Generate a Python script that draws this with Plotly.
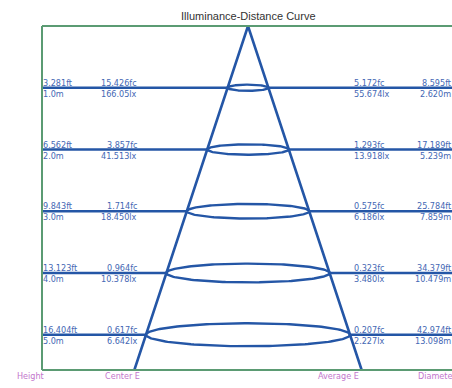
import numpy as np
import plotly.graph_objects as go

# ---- data ----
height_m = [1.0, 2.0, 3.0, 4.0, 5.0]
height_ft = ["3.281ft", "6.562ft", "9.843ft", "13.123ft", "16.404ft"]
center_fc = ["15.426fc", "3.857fc", "1.714fc", "0.964fc", "0.617fc"]
center_lx = ["166.05lx", "41.513lx", "18.450lx", "10.378lx", "6.642lx"]
avg_fc = ["5.172fc", "1.293fc", "0.575fc", "0.323fc", "0.207fc"]
avg_lx = ["55.674lx", "13.918lx", "6.186lx", "3.480lx", "2.227lx"]
diam_ft = ["8.595ft", "17.189ft", "25.784ft", "34.379ft", "42.974ft"]
diam_m = [2.620, 5.239, 7.859, 10.479, 13.098]
bottom_labels = ["Height", "Center E", "Average E", "Diameter"]
title = "Illuminance-Distance Curve"

# ---- layout geometry ----
W, H = 452, 388
ML, MR, MT, MB = 42, 0, 26, 18
PW, PH = W - ML - MR, H - MT - MB
row_px = 61.75                      # px per metre of height
ymax = PH / row_px
apex_px = 206                       # apex offset from plot left (px)
r_per_m = diam_m[-1] / 2 / height_m[-1]
sx = 20.4 / r_per_m                 # px per metre horizontally
xmin, xmax = -apex_px / sx, (PW - apex_px) / sx

BLUE = "#2456a6"
TXT = "#4467b4"
GREEN = "#5b9b73"
PURPLE = "#c276cc"

fig = go.Figure()

# horizontal level lines (stop at the cone edges)
for h, d in zip(height_m, diam_m):
    r = d / 2
    fig.add_trace(go.Scatter(x=[xmin, -r, None, r, xmax], y=[h, h, None, h, h], mode="lines",
                             line=dict(color=BLUE, width=2.6), hoverinfo="skip"))

# cone edges
rb = r_per_m * ymax
fig.add_trace(go.Scatter(x=[-rb, 0, rb], y=[ymax, 0, ymax], mode="lines",
                         line=dict(color=BLUE, width=2.6), hoverinfo="skip"))

# ellipses
t = np.linspace(0, 2 * np.pi, 181)
for h, d in zip(height_m, diam_m):
    r = d / 2
    k = (1.0 + 2.1 * h) / row_px
    fig.add_trace(go.Scatter(x=r * np.cos(t), y=h + k * np.sin(t), mode="lines",
                             line=dict(color=BLUE, width=2.4), hoverinfo="skip"))

def px2paper(px):
    return (px - ML) / PW

font = dict(family="Liberation Sans Narrow, DejaVu Sans Condensed, sans-serif", size=9, color=TXT)
ann = []
cols = [
    (height_ft, [f"{v:.1f}m" for v in height_m], 42, "left"),
    (center_fc, center_lx, 138, "right"),
    (avg_fc, avg_lx, 353, "left"),
    (diam_ft, [f"{v:.3f}m" for v in diam_m], 452, "right"),
]
for top, bot, px, anc in cols:
    for h, a, b in zip(height_m, top, bot):
        ann.append(dict(x=px2paper(px), xref="paper", y=h, yref="y", text=a,
                        xanchor=anc, yanchor="middle", yshift=5, showarrow=False,
                        font=font, borderpad=0))
        ann.append(dict(x=px2paper(px), xref="paper", y=h, yref="y", text=b,
                        xanchor=anc, yanchor="middle", yshift=-6, showarrow=False,
                        font=font, borderpad=0))

bfont = dict(family="Liberation Sans Narrow, DejaVu Sans Condensed, sans-serif", size=9, color=PURPLE)
for lab, px in zip(bottom_labels, [30.5, 122.5, 338, 437]):
    ann.append(dict(x=px2paper(px), xref="paper", y=0, yref="paper", text=lab,
                    xanchor="center", yanchor="middle", yshift=-6, showarrow=False,
                    font=bfont, borderpad=0))

ann.append(dict(x=px2paper(248), xref="paper", y=1, yref="paper", text=title,
                xanchor="center", yanchor="middle", yshift=10, showarrow=False,
                font=dict(family="Liberation Sans, Arial, sans-serif", size=11, color="#333333")))

fig.update_layout(
    width=W, height=H, margin=dict(l=ML, r=MR, t=MT, b=MB),
    paper_bgcolor="white", plot_bgcolor="white", showlegend=False,
    xaxis=dict(range=[xmin, xmax], visible=False, fixedrange=True),
    yaxis=dict(range=[ymax, 0], visible=False, fixedrange=True),
    annotations=ann,
    shapes=[
        dict(type="line", xref="paper", yref="paper", x0=0, x1=0, y0=0, y1=1,
             line=dict(color=GREEN, width=2)),
        dict(type="line", xref="paper", yref="paper", x0=0, x1=1.01, y0=1, y1=1,
             line=dict(color=GREEN, width=2)),
        dict(type="line", xref="paper", yref="paper", x0=0, x1=1.01, y0=0, y1=0,
             line=dict(color=GREEN, width=2)),
    ],
)

fig.write_html(
    "out.html",
    config={"displayModeBar": False},
    post_script="document.body.style.margin='0';document.documentElement.style.overflow='hidden';",
)
